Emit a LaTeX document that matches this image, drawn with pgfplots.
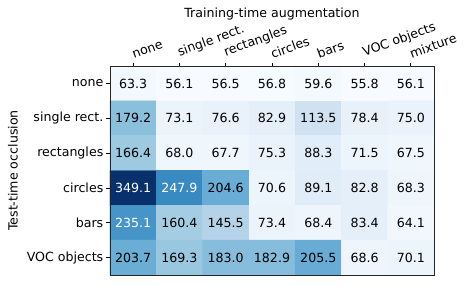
\documentclass[border=0pt]{standalone}
\usepackage{pgfplots}
\pgfplotsset{compat=1.18}
\usepackage{pgfplotstable}
\usepackage{fontspec}
\setmainfont{DejaVu Sans}
\pgfplotstableread{
x y z
0 0 63.3
1 0 56.1
2 0 56.5
3 0 56.8
4 0 59.6
5 0 55.8
6 0 56.1
0 1 179.2
1 1 73.1
2 1 76.6
3 1 82.9
4 1 113.5
5 1 78.4
6 1 75.0
0 2 166.4
1 2 68.0
2 2 67.7
3 2 75.3
4 2 88.3
5 2 71.5
6 2 67.5
0 3 349.1
1 3 247.9
2 3 204.6
3 3 70.6
4 3 89.1
5 3 82.8
6 3 68.3
0 4 235.1
1 4 160.4
2 4 145.5
3 4 73.4
4 4 68.4
5 4 83.4
6 4 64.1
0 5 203.7
1 5 169.3
2 5 183.0
3 5 182.9
4 5 205.5
5 5 68.6
6 5 70.1
}\heat
\begin{document}
\fontsize{12.6bp}{15bp}\selectfont
\begin{tikzpicture}
\useasboundingbox (-110bp,-11bp) rectangle (359bp,275bp);
\begin{axis}[
  at={(0,0)}, anchor=south west,
  scale only axis, width=324bp, height=209bp,
  xmin=-0.5, xmax=6.5, ymin=-0.5, ymax=5.5,
  y dir=reverse, enlargelimits=false, axis on top,
  colormap={mplblues}{rgb255=(247,251,255) rgb255=(222,235,247) rgb255=(198,219,239) rgb255=(158,202,225) rgb255=(107,174,214) rgb255=(66,146,198) rgb255=(33,113,181) rgb255=(8,81,156) rgb255=(8,48,107)},
  point meta min=55.8, point meta max=349.1,
  xtick={0,...,6}, ytick={0,...,5},
  xticklabels={none,single rect.,rectangles,circles,bars,VOC objects,mixture},
  yticklabels={none,single rect.,rectangles,circles,bars,VOC objects},
  xtick pos=right, xticklabel pos=right, ytick pos=left,
  tick align=outside, major tick length=3.5bp,
  tick style={black, line width=0.8bp},
  axis line style={black!85, line width=0.9bp},
  x tick label style={rotate=20, anchor=south west, inner sep=1bp, yshift=2bp, xshift=1bp},
  y tick label style={anchor=east, inner sep=1bp, xshift=-2bp},
  title={Training-time augmentation},
  title style={at={(axis description cs:0.5,1)}, anchor=base, yshift=43bp, inner sep=0pt},
  ylabel={Test-time occlusion},
  ylabel style={at={(axis description cs:-0.2994,0.5)}, anchor=center, inner sep=0pt},
]
\addplot[matrix plot*, mesh/cols=7, point meta=explicit] table[x=x, y=y, meta=z] {\heat};
\addplot[draw=none, mark=none, nodes near coords, nodes near coords align={center},
  point meta=explicit symbolic, every node near coord/.append style={text=black, anchor=center},
  x filter/.expression={\thisrow{z}>220 ? nan : x}] table[x=x, y=y, meta=z] {\heat};
\addplot[draw=none, mark=none, nodes near coords, nodes near coords align={center},
  point meta=explicit symbolic, every node near coord/.append style={text=white, anchor=center},
  x filter/.expression={\thisrow{z}>220 ? x : nan}] table[x=x, y=y, meta=z] {\heat};
\end{axis}
\end{tikzpicture}
\end{document}
